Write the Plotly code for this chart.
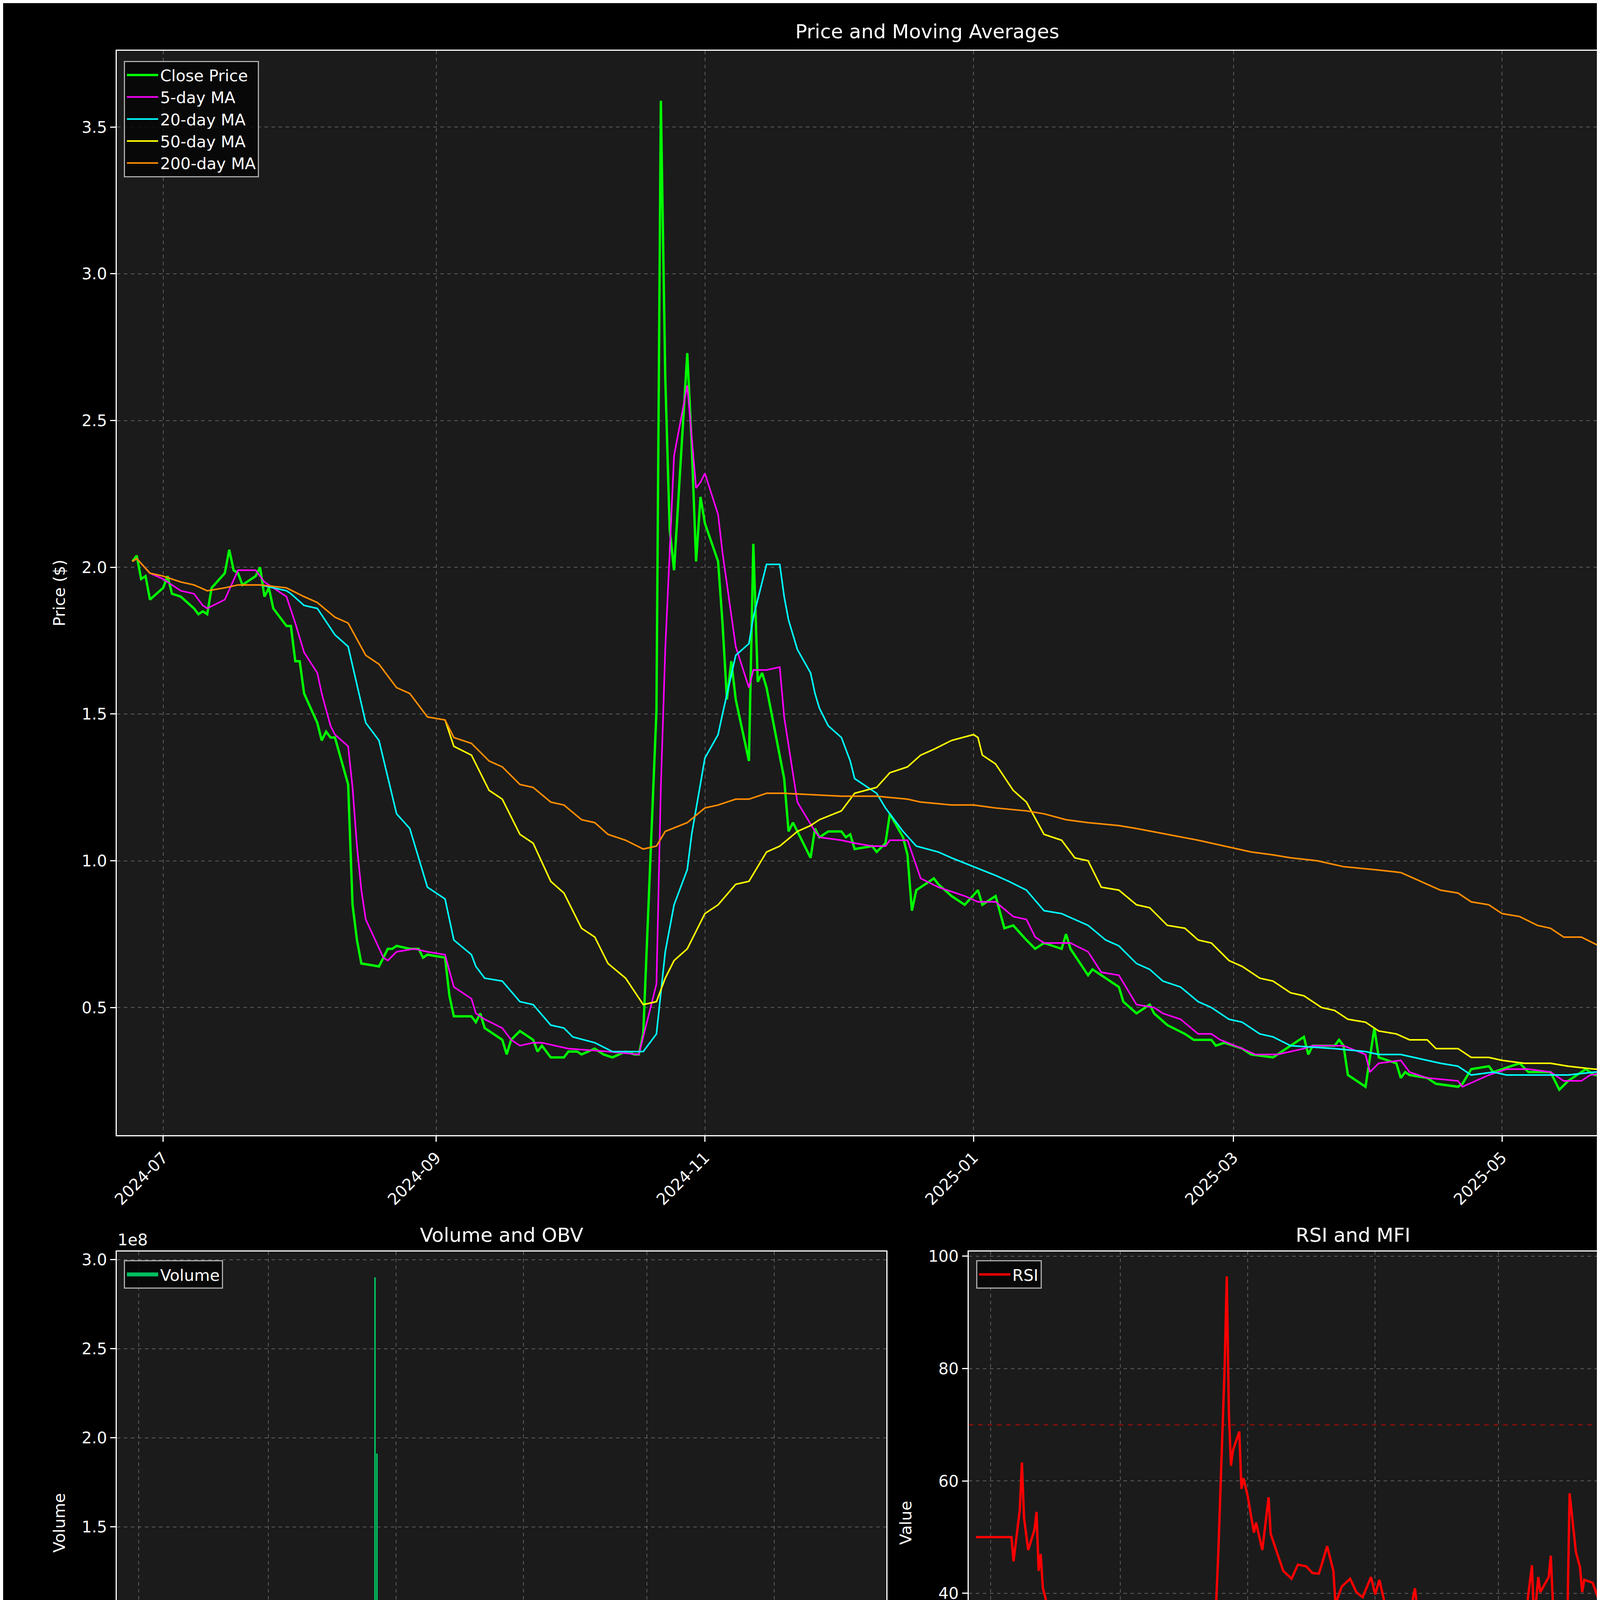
import plotly.graph_objects as go
from plotly.subplots import make_subplots

# ---------------- DATA ----------------
close_dates = ["2024-06-24","2024-06-25","2024-06-26","2024-06-27","2024-06-28","2024-07-01","2024-07-02","2024-07-03","2024-07-05","2024-07-08",
"2024-07-09","2024-07-10","2024-07-11","2024-07-12","2024-07-15","2024-07-16","2024-07-17","2024-07-18","2024-07-19","2024-07-22",
"2024-07-23","2024-07-24","2024-07-25","2024-07-26","2024-07-29","2024-07-30","2024-07-31","2024-08-01","2024-08-02","2024-08-05",
"2024-08-06","2024-08-07","2024-08-08","2024-08-09","2024-08-12","2024-08-13","2024-08-14","2024-08-15","2024-08-19","2024-08-21",
"2024-08-22","2024-08-23","2024-08-26","2024-08-28","2024-08-29","2024-08-30","2024-09-03","2024-09-04","2024-09-05","2024-09-09",
"2024-09-10","2024-09-11","2024-09-12","2024-09-16","2024-09-17","2024-09-18","2024-09-20","2024-09-23","2024-09-24","2024-09-25",
"2024-09-27","2024-09-30","2024-10-01","2024-10-03","2024-10-04","2024-10-07","2024-10-09","2024-10-11","2024-10-14","2024-10-16",
"2024-10-17","2024-10-18","2024-10-21","2024-10-22","2024-10-23","2024-10-24","2024-10-25","2024-10-28","2024-10-29","2024-10-30",
"2024-10-31","2024-11-01","2024-11-04","2024-11-05","2024-11-06","2024-11-07","2024-11-08","2024-11-11","2024-11-12","2024-11-13",
"2024-11-14","2024-11-15","2024-11-19","2024-11-20","2024-11-21","2024-11-25","2024-11-26","2024-11-27","2024-11-29","2024-12-02",
"2024-12-03","2024-12-04","2024-12-05","2024-12-09","2024-12-10","2024-12-12","2024-12-13","2024-12-16","2024-12-17","2024-12-18",
"2024-12-19","2024-12-23","2024-12-24","2024-12-27","2024-12-30","2025-01-02","2025-01-03","2025-01-06","2025-01-08","2025-01-10",
"2025-01-13","2025-01-15","2025-01-17","2025-01-21","2025-01-22","2025-01-23","2025-01-27","2025-01-28","2025-01-30","2025-02-03",
"2025-02-04","2025-02-07","2025-02-10","2025-02-11","2025-02-14","2025-02-18","2025-02-20","2025-02-24","2025-02-25","2025-02-27",
"2025-03-03","2025-03-05","2025-03-10","2025-03-14","2025-03-17","2025-03-18","2025-03-19","2025-03-24","2025-03-25","2025-03-26",
"2025-03-27","2025-03-31","2025-04-02","2025-04-03","2025-04-07","2025-04-08","2025-04-09","2025-04-10","2025-04-14","2025-04-16",
"2025-04-21","2025-04-22","2025-04-24","2025-04-28","2025-04-29","2025-05-01","2025-05-05","2025-05-07","2025-05-12","2025-05-14",
"2025-05-16","2025-05-20","2025-05-22","2025-05-27","2025-05-29","2025-06-02","2025-06-03","2025-06-05","2025-06-06","2025-06-10",
"2025-06-12","2025-06-13","2025-06-16","2025-06-18","2025-06-20"]
close_vals = [2.02,2.04,1.96,1.97,1.89,1.93,1.97,1.91,1.90,1.86,
1.84,1.85,1.84,1.93,1.98,2.06,1.99,1.98,1.94,1.97,
2.00,1.90,1.93,1.86,1.80,1.80,1.68,1.68,1.57,1.47,
1.41,1.44,1.42,1.42,1.26,0.85,0.73,0.65,0.64,0.70,
0.70,0.71,0.70,0.70,0.67,0.68,0.67,0.54,0.47,0.47,
0.45,0.48,0.43,0.39,0.34,0.39,0.42,0.39,0.35,0.37,
0.33,0.33,0.35,0.35,0.34,0.36,0.34,0.33,0.35,0.34,
0.34,0.41,1.51,3.59,2.65,2.13,1.99,2.73,2.42,2.02,
2.24,2.15,2.02,1.81,1.55,1.68,1.55,1.34,2.08,1.61,
1.64,1.59,1.28,1.10,1.13,1.01,1.11,1.08,1.10,1.10,
1.08,1.09,1.04,1.05,1.03,1.06,1.16,1.08,1.02,0.83,
0.90,0.94,0.92,0.88,0.85,0.90,0.85,0.88,0.77,0.78,
0.73,0.70,0.72,0.70,0.75,0.70,0.61,0.63,0.61,0.57,
0.52,0.48,0.51,0.48,0.44,0.41,0.39,0.39,0.37,0.38,
0.36,0.34,0.33,0.37,0.40,0.34,0.37,0.37,0.39,0.37,
0.27,0.23,0.43,0.33,0.31,0.26,0.28,0.27,0.26,0.24,
0.23,0.24,0.29,0.30,0.28,0.29,0.31,0.28,0.28,0.22,
0.25,0.29,0.27,0.27,0.33,0.32,0.28,0.27,0.30,0.32,
0.31,0.30,0.31,0.30,0.26]

ma5_dates = ["2024-06-24","2024-06-25","2024-06-28","2024-07-01","2024-07-05","2024-07-08","2024-07-10","2024-07-11","2024-07-15","2024-07-18",
"2024-07-22","2024-07-24","2024-07-26","2024-07-29","2024-07-31","2024-08-02","2024-08-05","2024-08-06","2024-08-08","2024-08-09",
"2024-08-12","2024-08-13","2024-08-14","2024-08-15","2024-08-16","2024-08-20","2024-08-21","2024-08-23","2024-08-27","2024-08-30",
"2024-09-03","2024-09-05","2024-09-09","2024-09-10","2024-09-12","2024-09-16","2024-09-18","2024-09-20","2024-09-23","2024-09-25",
"2024-10-01","2024-10-10","2024-10-17","2024-10-21","2024-10-22","2024-10-23","2024-10-25","2024-10-28","2024-10-30","2024-10-31",
"2024-11-01","2024-11-04","2024-11-05","2024-11-08","2024-11-11","2024-11-12","2024-11-15","2024-11-18","2024-11-19","2024-11-22",
"2024-11-26","2024-11-27","2024-12-02","2024-12-05","2024-12-09","2024-12-12","2024-12-13","2024-12-17","2024-12-20","2024-12-24",
"2024-12-30","2025-01-02","2025-01-06","2025-01-10","2025-01-13","2025-01-15","2025-01-17","2025-01-23","2025-01-27","2025-01-30",
"2025-02-03","2025-02-07","2025-02-11","2025-02-13","2025-02-17","2025-02-21","2025-02-24","2025-02-26","2025-03-03","2025-03-06",
"2025-03-11","2025-03-17","2025-03-19","2025-03-24","2025-03-26","2025-03-31","2025-04-01","2025-04-03","2025-04-08","2025-04-10",
"2025-04-14","2025-04-21","2025-04-22","2025-04-28","2025-05-02","2025-05-07","2025-05-12","2025-05-15","2025-05-19","2025-05-21",
"2025-05-26","2025-05-30","2025-06-03","2025-06-05","2025-06-09","2025-06-13","2025-06-17","2025-06-20"]
ma5_vals = [2.02,2.03,1.98,1.96,1.92,1.91,1.87,1.86,1.89,1.99,
1.99,1.95,1.93,1.90,1.81,1.71,1.64,1.57,1.46,1.43,
1.39,1.25,1.05,0.90,0.80,0.67,0.66,0.69,0.70,0.69,
0.68,0.57,0.53,0.48,0.46,0.43,0.39,0.37,0.38,0.38,
0.36,0.35,0.34,0.58,1.25,1.72,2.38,2.62,2.27,2.29,
2.32,2.18,2.05,1.73,1.59,1.65,1.65,1.66,1.49,1.20,
1.10,1.08,1.07,1.06,1.05,1.05,1.07,1.07,0.94,0.91,
0.88,0.86,0.86,0.81,0.80,0.74,0.72,0.72,0.69,0.62,
0.61,0.51,0.50,0.48,0.46,0.41,0.41,0.39,0.36,0.34,
0.34,0.36,0.37,0.37,0.37,0.34,0.28,0.31,0.32,0.28,
0.26,0.25,0.23,0.27,0.29,0.29,0.28,0.25,0.25,0.27,
0.28,0.30,0.31,0.29,0.29,0.31,0.31,0.30]

ma20_dates = ["2024-07-23","2024-07-26","2024-07-29","2024-07-30","2024-08-02","2024-08-05","2024-08-09","2024-08-12","2024-08-16","2024-08-19",
"2024-08-23","2024-08-26","2024-08-30","2024-09-03","2024-09-05","2024-09-09","2024-09-10","2024-09-12","2024-09-16","2024-09-20",
"2024-09-23","2024-09-27","2024-09-30","2024-10-02","2024-10-07","2024-10-11","2024-10-18","2024-10-21","2024-10-23","2024-10-25",
"2024-10-28","2024-10-29","2024-11-01","2024-11-04","2024-11-05","2024-11-08","2024-11-11","2024-11-12","2024-11-15","2024-11-18",
"2024-11-19","2024-11-20","2024-11-22","2024-11-25","2024-11-26","2024-11-27","2024-11-29","2024-12-02","2024-12-04","2024-12-05",
"2024-12-10","2024-12-12","2024-12-16","2024-12-19","2024-12-24","2024-12-27","2025-01-01","2025-01-06","2025-01-09","2025-01-13",
"2025-01-17","2025-01-21","2025-01-27","2025-01-31","2025-02-03","2025-02-07","2025-02-10","2025-02-13","2025-02-17","2025-02-21",
"2025-02-24","2025-02-28","2025-03-03","2025-03-07","2025-03-10","2025-03-14","2025-03-24","2025-03-31","2025-04-03","2025-04-08",
"2025-04-11","2025-04-17","2025-04-21","2025-04-24","2025-04-29","2025-05-02","2025-05-07","2025-05-16","2025-05-22","2025-06-02",
"2025-06-10","2025-06-13","2025-06-20"]
ma20_vals = [1.94,1.93,1.92,1.91,1.87,1.86,1.77,1.73,1.47,1.41,
1.16,1.11,0.91,0.87,0.73,0.68,0.64,0.60,0.59,0.52,
0.51,0.44,0.43,0.40,0.38,0.35,0.35,0.41,0.69,0.85,
0.97,1.09,1.35,1.43,1.50,1.70,1.74,1.83,2.01,2.01,
1.90,1.82,1.72,1.64,1.57,1.52,1.46,1.42,1.34,1.28,
1.23,1.18,1.10,1.05,1.03,1.01,0.98,0.95,0.93,0.90,
0.83,0.82,0.78,0.73,0.71,0.65,0.63,0.59,0.57,0.52,
0.50,0.46,0.45,0.41,0.40,0.37,0.36,0.35,0.34,0.34,
0.33,0.31,0.30,0.27,0.28,0.27,0.27,0.27,0.28,0.28,
0.28,0.29,0.30]

ma50_dates = ["2024-09-03","2024-09-05","2024-09-09","2024-09-13","2024-09-16","2024-09-20","2024-09-23","2024-09-27","2024-09-30","2024-10-04",
"2024-10-07","2024-10-10","2024-10-14","2024-10-18","2024-10-21","2024-10-23","2024-10-25","2024-10-28","2024-10-29","2024-11-01",
"2024-11-04","2024-11-08","2024-11-11","2024-11-15","2024-11-18","2024-11-22","2024-11-25","2024-11-27","2024-12-02","2024-12-05",
"2024-12-10","2024-12-13","2024-12-17","2024-12-20","2024-12-23","2024-12-27","2025-01-01","2025-01-02","2025-01-03","2025-01-06",
"2025-01-10","2025-01-13","2025-01-17","2025-01-21","2025-01-24","2025-01-27","2025-01-30","2025-02-03","2025-02-07","2025-02-10",
"2025-02-14","2025-02-18","2025-02-21","2025-02-24","2025-02-28","2025-03-03","2025-03-07","2025-03-10","2025-03-14","2025-03-17",
"2025-03-21","2025-03-24","2025-03-27","2025-03-31","2025-04-03","2025-04-07","2025-04-10","2025-04-14","2025-04-16","2025-04-21",
"2025-04-24","2025-04-28","2025-05-01","2025-05-06","2025-05-12","2025-05-16","2025-05-22","2025-05-28","2025-06-03","2025-06-10",
"2025-06-13","2025-06-20"]
ma50_vals = [1.48,1.39,1.36,1.24,1.21,1.09,1.06,0.93,0.89,0.77,
0.74,0.65,0.60,0.51,0.52,0.60,0.66,0.70,0.73,0.82,
0.85,0.92,0.93,1.03,1.05,1.10,1.12,1.14,1.17,1.23,
1.25,1.30,1.32,1.36,1.38,1.41,1.43,1.42,1.36,1.33,
1.24,1.20,1.09,1.07,1.01,1.00,0.91,0.90,0.85,0.84,
0.78,0.77,0.73,0.72,0.66,0.64,0.60,0.59,0.55,0.54,
0.50,0.49,0.46,0.45,0.42,0.41,0.39,0.39,0.36,0.36,
0.33,0.33,0.32,0.31,0.31,0.30,0.29,0.29,0.28,0.28,
0.28,0.28]

ma200_dates = ["2024-06-24","2024-06-25","2024-06-28","2024-07-01","2024-07-05","2024-07-08","2024-07-11","2024-07-15","2024-07-18","2024-07-23",
"2024-07-29","2024-08-02","2024-08-05","2024-08-09","2024-08-12","2024-08-16","2024-08-19","2024-08-23","2024-08-26","2024-08-30",
"2024-09-03","2024-09-05","2024-09-09","2024-09-13","2024-09-16","2024-09-20","2024-09-23","2024-09-27","2024-09-30","2024-10-04",
"2024-10-07","2024-10-10","2024-10-14","2024-10-18","2024-10-21","2024-10-23","2024-10-28","2024-11-01","2024-11-04","2024-11-08",
"2024-11-11","2024-11-15","2024-11-19","2024-12-02","2024-12-10","2024-12-17","2024-12-20","2024-12-27","2025-01-01","2025-01-06",
"2025-01-13","2025-01-17","2025-01-22","2025-01-27","2025-02-03","2025-02-07","2025-02-14","2025-02-21","2025-02-27","2025-03-05",
"2025-03-10","2025-03-14","2025-03-20","2025-03-26","2025-04-02","2025-04-08","2025-04-11","2025-04-17","2025-04-21","2025-04-24",
"2025-04-28","2025-05-01","2025-05-05","2025-05-09","2025-05-12","2025-05-15","2025-05-19","2025-05-23","2025-05-27","2025-05-30",
"2025-06-03","2025-06-06","2025-06-13","2025-06-20"]
ma200_vals = [2.02,2.03,1.98,1.97,1.95,1.94,1.92,1.93,1.94,1.94,
1.93,1.90,1.88,1.83,1.81,1.70,1.67,1.59,1.57,1.49,
1.48,1.42,1.40,1.34,1.32,1.26,1.25,1.20,1.19,1.14,
1.13,1.09,1.07,1.04,1.05,1.10,1.13,1.18,1.19,1.21,
1.21,1.23,1.23,1.22,1.22,1.21,1.20,1.19,1.19,1.18,
1.17,1.16,1.14,1.13,1.12,1.11,1.09,1.07,1.05,1.03,
1.02,1.01,1.00,0.98,0.97,0.96,0.94,0.90,0.89,0.86,
0.85,0.82,0.81,0.78,0.77,0.74,0.74,0.71,0.70,0.68,
0.68,0.67,0.66,0.66]

vol_dates = ["2024-08-12","2024-08-13","2024-08-14","2024-08-20","2024-08-22","2024-08-26","2024-09-04","2024-09-11","2024-09-12","2024-09-18",
"2024-09-23","2024-09-25","2024-10-01","2024-10-08","2024-10-15","2024-10-18","2024-10-21","2024-10-22","2024-10-23","2024-10-24",
"2024-10-25","2024-10-28","2024-10-29","2024-10-30","2024-10-31","2024-11-01","2024-11-04","2024-11-06","2024-11-08","2024-11-11",
"2024-11-12","2024-11-13","2024-11-15","2024-11-19","2024-11-20","2024-11-22","2024-11-26","2024-11-27","2024-12-02","2024-12-05",
"2024-12-09","2024-12-12","2024-12-16","2024-12-18","2024-12-19","2024-12-23","2024-12-30","2025-01-03","2025-01-08","2025-01-15",
"2025-01-22","2025-02-03","2025-02-12","2025-02-13","2025-02-17","2025-02-18","2025-02-20","2025-02-24","2025-02-27","2025-03-03",
"2025-03-05","2025-03-07","2025-03-11","2025-03-13","2025-03-14","2025-03-17","2025-03-18","2025-03-20","2025-03-21","2025-03-24",
"2025-03-25","2025-03-26","2025-03-28","2025-04-01","2025-04-02","2025-04-03","2025-04-04","2025-04-07","2025-04-08","2025-04-09",
"2025-04-14","2025-04-16","2025-04-21","2025-04-22","2025-04-24","2025-04-25","2025-04-28","2025-04-29","2025-05-01","2025-05-06",
"2025-05-07","2025-05-09","2025-05-13","2025-05-15","2025-05-16","2025-05-20","2025-05-22","2025-05-27","2025-05-29","2025-06-02",
"2025-06-03","2025-06-05","2025-06-06","2025-06-10","2025-06-11","2025-06-13","2025-06-16","2025-06-18","2025-06-20"]
vol_1e8 = [0.034,0.028,0.010,0.008,0.006,0.006,0.008,0.114,0.010,0.008,
0.010,0.006,0.012,0.008,0.030,0.060,0.020,2.90,1.91,0.146,
0.078,0.045,0.190,0.024,0.020,0.040,0.045,0.015,0.012,0.010,
0.218,0.028,0.012,0.010,0.012,0.010,0.008,0.010,0.010,0.015,
0.008,0.010,0.012,0.040,0.020,0.008,0.006,0.010,0.008,0.008,
0.006,0.006,0.164,0.015,0.050,0.020,0.015,0.010,0.012,0.010,
0.008,0.012,0.015,0.100,0.440,0.045,0.020,0.035,0.025,0.035,
0.020,0.030,0.020,0.460,0.630,0.073,0.025,0.030,0.025,0.020,
0.015,0.012,0.012,0.012,0.018,0.020,0.198,0.024,0.025,0.045,
0.025,0.012,0.010,0.035,0.020,0.012,0.015,0.010,0.012,0.088,
0.040,0.012,0.015,0.012,0.015,0.010,0.012,0.008,0.017]

rsi_dates = ["2024-06-24","2024-07-11","2024-07-12","2024-07-15","2024-07-16","2024-07-17","2024-07-19","2024-07-22","2024-07-23","2024-07-24",
"2024-07-25","2024-07-26","2024-07-29","2024-07-31","2024-08-02","2024-08-06","2024-08-07","2024-08-09","2024-08-12","2024-08-13",
"2024-08-15","2024-08-19","2024-08-22","2024-08-23","2024-08-28","2024-08-29","2024-08-30","2024-09-03","2024-09-05","2024-09-06",
"2024-09-10","2024-09-11","2024-09-12","2024-09-16","2024-09-17","2024-09-19","2024-09-23","2024-09-24","2024-09-26","2024-09-27",
"2024-10-01","2024-10-03","2024-10-04","2024-10-09","2024-10-10","2024-10-14","2024-10-15","2024-10-16","2024-10-18","2024-10-21",
"2024-10-22","2024-10-23","2024-10-24","2024-10-25","2024-10-28","2024-10-29","2024-10-30","2024-11-01","2024-11-04","2024-11-05",
"2024-11-08","2024-11-11","2024-11-12","2024-11-18","2024-11-22","2024-11-25","2024-11-29","2024-12-02","2024-12-05","2024-12-06",
"2024-12-09","2024-12-12","2024-12-13","2024-12-16","2024-12-20","2024-12-23","2024-12-26","2024-12-30","2025-01-01","2025-01-03",
"2025-01-06","2025-01-08","2025-01-13","2025-01-15","2025-01-17","2025-01-20","2025-01-21","2025-01-24","2025-01-27","2025-01-30",
"2025-02-03","2025-02-06","2025-02-10","2025-02-13","2025-02-17","2025-02-21","2025-02-24","2025-02-25","2025-02-27","2025-03-03",
"2025-03-05","2025-03-06","2025-03-10","2025-03-12","2025-03-14","2025-03-17","2025-03-18","2025-03-20","2025-03-21","2025-03-25",
"2025-03-26","2025-03-28","2025-04-02","2025-04-03","2025-04-04","2025-04-07","2025-04-09","2025-04-10","2025-04-11","2025-04-15",
"2025-04-18","2025-04-24","2025-04-25","2025-04-28","2025-05-01","2025-05-02","2025-05-05","2025-05-08","2025-05-12","2025-05-13",
"2025-05-16","2025-05-19","2025-05-20","2025-05-26","2025-05-27","2025-05-28","2025-06-02","2025-06-04","2025-06-06","2025-06-09",
"2025-06-10","2025-06-11","2025-06-13","2025-06-16","2025-06-18","2025-06-19","2025-06-20"]
rsi_vals = [50.0,50.0,45.7,54.9,63.3,53.5,47.7,51.3,54.5,44.0,
47.0,41.0,36.6,29.4,24.1,19.0,22.6,21.9,17.3,10.8,
8.7,8.6,14.9,16.5,16.1,15.4,17.3,17.0,13.5,12.2,
11.8,15.7,14.4,13.2,12.0,20.4,22.4,25.7,22.3,26.0,
25.2,23.3,28.0,27.9,26.9,27.8,26.9,30.0,47.7,80.5,
96.4,72.3,62.7,65.5,68.8,58.6,60.5,57.3,50.8,52.6,
47.7,57.1,50.6,44.0,42.6,45.1,44.8,43.6,43.5,44.6,
48.4,44.0,38.1,41.2,42.6,40.2,39.3,42.9,39.8,42.4,
37.5,38.0,34.6,36.4,35.3,40.9,37.8,32.3,35.1,34.7,
28.9,26.9,30.8,25.8,24.5,23.6,22.1,24.8,24.8,21.4,
21.4,23.2,22.3,32.8,36.1,45.0,34.7,42.9,40.2,42.9,
46.7,30.0,26.2,36.8,57.8,47.4,44.6,40.2,42.4,41.9,
38.8,37.1,39.5,48.4,49.8,47.4,47.7,53.5,47.7,48.9,
46.7,37.5,42.6,52.0,47.0,49.4,48.5,61.0,57.4,49.8,
47.0,50.8,57.3,49.8,53.5,51.8,43.0]

macd_dates = ["2024-06-24","2024-07-29","2024-07-30","2024-08-01","2024-08-05","2024-08-08","2024-08-12","2024-08-15","2024-08-16","2024-08-20",
"2024-08-23","2024-08-26","2024-08-30","2024-09-03","2024-09-09","2024-09-13","2024-09-17","2024-09-20","2024-09-24","2024-09-27",
"2024-10-01","2024-10-04","2024-10-08","2024-10-11","2024-10-15","2024-10-18","2024-10-21","2024-10-22","2024-10-23","2024-10-24",
"2024-10-28","2024-10-29","2024-10-30","2024-11-01","2024-11-04","2024-11-05","2024-11-07","2024-11-08","2024-11-11","2024-11-12",
"2024-11-13","2024-11-15","2024-11-18","2024-11-20","2024-11-22","2024-11-26","2024-11-27","2024-12-03","2024-12-09","2024-12-11",
"2024-12-16","2024-12-18","2024-12-23","2024-12-30","2025-01-03","2025-01-08","2025-01-10","2025-01-15","2025-01-21","2025-01-23",
"2025-01-31","2025-02-05","2025-02-11","2025-02-17","2025-02-21","2025-02-26","2025-03-03","2025-03-06","2025-03-11","2025-03-17",
"2025-03-20","2025-03-24","2025-03-26","2025-03-31","2025-04-02","2025-04-07","2025-04-14","2025-04-21","2025-04-24","2025-04-30",
"2025-05-05","2025-05-09","2025-05-14","2025-05-19","2025-05-26","2025-05-28","2025-05-30","2025-06-03","2025-06-09","2025-06-13",
"2025-06-20"]
macd_vals = [0.0,0.0,-0.029,-0.073,-0.093,-0.133,-0.157,-0.284,-0.301,-0.327,
-0.311,-0.300,-0.260,-0.250,-0.244,-0.220,-0.214,-0.190,-0.177,-0.147,
-0.140,-0.116,-0.108,-0.086,-0.079,-0.056,0.035,0.257,0.405,0.432,
0.485,0.537,0.512,0.485,0.465,0.358,0.270,0.216,0.227,0.183,
0.146,0.109,0.055,-0.036,-0.069,-0.089,-0.100,-0.110,-0.112,-0.091,
-0.089,-0.106,-0.103,-0.103,-0.093,-0.091,-0.096,-0.100,-0.091,-0.089,
-0.094,-0.103,-0.100,-0.100,-0.096,-0.087,-0.083,-0.076,-0.058,-0.039,
-0.036,-0.026,-0.036,-0.044,-0.027,-0.032,-0.036,-0.039,-0.029,-0.017,
-0.007,-0.005,-0.013,-0.007,-0.005,0.005,0.007,0.001,0.007,0.005,
0.001]

signal_dates = ["2024-06-24","2024-08-07","2024-08-08","2024-08-12","2024-08-16","2024-08-19","2024-08-23","2024-08-28","2024-09-03","2024-09-06",
"2024-09-13","2024-09-19","2024-09-27","2024-10-04","2024-10-11","2024-10-17","2024-10-21","2024-10-22","2024-10-24","2024-10-28",
"2024-10-29","2024-11-01","2024-11-04","2024-11-06","2024-11-08","2024-11-13","2024-11-15","2024-11-19","2024-11-22","2024-11-26",
"2024-11-29","2024-12-04","2024-12-10","2024-12-16","2024-12-19","2024-12-31","2025-01-08","2025-01-15","2025-01-23","2025-02-05",
"2025-02-21","2025-02-27","2025-03-05","2025-03-13","2025-03-18","2025-03-25","2025-03-31","2025-04-07","2025-04-21","2025-04-28",
"2025-05-02","2025-05-08","2025-05-16","2025-05-26","2025-06-02","2025-06-09","2025-06-20"]
signal_vals = [0.0,0.0,-0.100,-0.112,-0.200,-0.227,-0.281,-0.289,-0.278,-0.261,
-0.237,-0.215,-0.177,-0.140,-0.110,-0.089,-0.056,0.042,0.216,0.274,
0.351,0.415,0.425,0.368,0.337,0.243,0.216,0.092,0.058,-0.012,
-0.032,-0.078,-0.096,-0.093,-0.100,-0.103,-0.096,-0.100,-0.094,-0.100,
-0.098,-0.093,-0.085,-0.069,-0.052,-0.038,-0.040,-0.034,-0.038,-0.031,
-0.020,-0.012,-0.011,-0.005,0.001,0.003,0.005]

vwap_dates = ["2024-06-24","2024-06-28","2024-07-05","2024-07-11","2024-07-22","2024-07-31","2024-08-05","2024-08-12","2024-08-13","2024-08-15",
"2024-08-23","2024-09-03","2024-09-05","2024-09-11","2024-09-12","2024-09-24","2024-10-14","2024-10-15","2024-10-18","2024-10-22",
"2024-10-29","2024-11-12","2024-12-02","2025-01-03","2025-02-13","2025-02-17","2025-02-25","2025-03-07","2025-03-18","2025-03-20",
"2025-03-26","2025-04-03","2025-04-07","2025-04-14","2025-04-25","2025-05-02","2025-05-15","2025-06-02","2025-06-20"]
vwap_vals = [2.08,2.02,2.00,1.98,1.98,1.96,1.92,1.88,1.17,0.98,
0.92,0.91,0.87,0.86,0.68,0.62,0.60,0.58,0.56,2.03,
2.06,2.05,2.03,2.00,2.00,1.96,1.93,1.92,1.91,1.79,
1.76,1.75,1.57,1.55,1.54,1.50,1.48,1.45,1.43]

bbu_dates = ["2024-06-24","2024-07-19","2024-07-26","2024-07-31","2024-08-12","2024-08-14","2024-08-16","2024-08-20","2024-08-26","2024-08-30",
"2024-09-03","2024-09-06","2024-09-10","2024-09-13","2024-09-18","2024-09-25","2024-09-30","2024-10-04","2024-10-10","2024-10-18",
"2024-10-23","2024-10-28","2024-11-05","2024-11-08","2024-11-12","2024-11-15","2024-11-19","2024-12-02","2025-01-03","2025-02-13",
"2025-02-17","2025-02-26","2025-03-10","2025-03-14","2025-03-19","2025-03-27","2025-04-03","2025-04-08","2025-04-15","2025-04-23",
"2025-04-30","2025-05-02","2025-05-15","2025-05-22","2025-06-02","2025-06-20"]
bbu_vals = [2.08,2.08,2.02,2.00,2.03,2.33,2.51,2.54,2.43,2.14,
2.03,1.61,1.07,1.08,1.05,1.04,0.96,0.81,0.67,0.65,
1.55,2.39,2.80,2.95,2.93,2.72,2.07,2.06,2.03,2.01,
2.03,2.03,1.99,1.95,2.00,2.00,1.98,1.99,1.91,1.84,
1.69,1.58,1.57,1.51,1.49,1.46]

bbl_dates = ["2024-06-24","2024-07-19","2024-07-30","2024-08-12","2024-08-15","2024-08-20","2024-08-26","2024-08-30","2024-09-03","2024-09-09",
"2024-09-11","2024-09-16","2024-09-23","2024-09-27","2024-10-04","2024-10-10","2024-10-18","2024-10-21","2024-10-24","2024-10-29",
"2024-11-01","2024-11-07","2024-11-12","2024-11-15","2024-11-20","2024-12-02","2025-01-03","2025-02-13","2025-02-17","2025-02-28",
"2025-03-13","2025-03-18","2025-03-21","2025-03-31","2025-04-03","2025-04-07","2025-04-14","2025-04-21","2025-04-30","2025-05-02",
"2025-05-15","2025-06-02","2025-06-20"]
bbl_vals = [1.94,1.94,1.96,1.88,0.96,0.68,0.47,0.35,0.36,0.56,
0.81,0.68,0.53,0.48,0.50,0.56,0.54,0.35,-0.19,-0.28,
-0.16,0.17,0.50,1.07,2.03,2.04,2.00,2.00,1.96,1.91,
1.89,1.91,1.81,1.70,1.68,1.51,1.48,1.43,1.45,1.50,
1.45,1.44,1.42]

# ---------------- FIGURE ----------------
FS = 41
WHITE = "#ffffff"
PLOT_BG = "#1b1b1b"
GRID = "rgba(150,150,150,0.55)"
XR = ["2024-06-20 12:00", "2025-06-23 14:00"]

fig = make_subplots(rows=3, cols=2,
                    specs=[[{"colspan": 2}, None], [{}, {}], [{}, {}]])

def line(x, y, name, color, width, row, col, legend, showlegend=True, opacity=1.0):
    fig.add_trace(go.Scatter(x=x, y=y, mode="lines", name=name,
                             line=dict(color=color, width=width), opacity=opacity,
                             legend=legend, showlegend=showlegend), row=row, col=col)

line(close_dates, close_vals, "Close Price", "#00ff00", 6, 1, 1, "legend")
line(ma5_dates, ma5_vals, "5-day MA", "#ff00ff", 4, 1, 1, "legend")
line(ma20_dates, ma20_vals, "20-day MA", "#00ffff", 4, 1, 1, "legend")
line(ma50_dates, ma50_vals, "50-day MA", "#ffff00", 4, 1, 1, "legend")
line(ma200_dates, ma200_vals, "200-day MA", "#ff8c00", 4, 1, 1, "legend")

VOLC = "#00c060"
fig.add_trace(go.Bar(x=vol_dates, y=vol_1e8, name="Volume", marker_color=VOLC,
                     marker_line_width=0, width=86400000 * 0.8, showlegend=False), row=2, col=1)
# legend patch for volume (wide rectangle like the reference)
fig.add_trace(go.Scatter(x=[None], y=[None], mode="lines", name="Volume",
                         line=dict(color=VOLC, width=28), legend="legend2"), row=2, col=1)

line(rsi_dates, rsi_vals, "RSI", "#ff0000", 6, 2, 2, "legend3")

line(macd_dates, macd_vals, "MACD", "#ff8c00", 6, 3, 1, "legend4")
line(signal_dates, signal_vals, "Signal", "#00ff7f", 6, 3, 1, "legend4")

fig.add_trace(go.Scatter(x=bbu_dates + bbl_dates[::-1], y=bbu_vals + bbl_vals[::-1],
                         fill="toself", fillcolor="rgba(128,128,128,0.1)",
                         line=dict(width=0), showlegend=False, hoverinfo="skip"), row=3, col=2)
line(close_dates, close_vals, "Close Price", "#008000", 5, 3, 2, "legend5", opacity=0.9)
line(vwap_dates, vwap_vals, "VWAP", "#ff00ff", 8, 3, 2, "legend5")
line(bbu_dates, bbu_vals, "VWAP BB Upper", "rgba(200,60,50,0.6)", 4, 3, 2, "legend5")
line(bbl_dates, bbl_vals, "VWAP BB Lower", "rgba(30,160,30,0.7)", 4, 3, 2, "legend5")

xd_full = [0.049, 0.9935]
xd_l = [0.049, 0.4973]
xd_r = [0.5452, 0.9935]
yd_top = [0.554, 0.983]
yd_2 = [0.2934, 0.5079]
yd_3 = [0.0329, 0.2473]

axis_common = dict(showline=True, linecolor=WHITE, linewidth=3, mirror=True,
                   ticks="outside", tickcolor=WHITE, ticklen=14, tickwidth=3,
                   tickfont=dict(size=FS, color=WHITE), showgrid=True,
                   gridcolor=GRID, griddash="dash", gridwidth=2, zeroline=False)
xcommon = dict(axis_common, type="date", range=XR, tick0="2024-07-01", dtick="M2",
               tickformat="%Y-%m", tickangle=-45)

def ytitle(t):
    return dict(text=t, font=dict(size=FS, color=WHITE), standoff=30)

fig.update_layout(
    xaxis=dict(xcommon, domain=xd_full, anchor="y"),
    yaxis=dict(axis_common, domain=yd_top, range=[0.065, 3.76], dtick=0.5, tickformat=".1f", title=ytitle("Price ($)")),
    xaxis2=dict(xcommon, domain=xd_l, anchor="y2"),
    yaxis2=dict(axis_common, domain=yd_2, range=[0, 3.045], dtick=0.5, tickformat=".1f", title=ytitle("Volume")),
    xaxis3=dict(xcommon, domain=xd_r, anchor="y3"),
    yaxis3=dict(axis_common, domain=yd_2, range=[4.3, 100.8], dtick=20, title=ytitle("Value")),
    xaxis4=dict(xcommon, domain=xd_l, anchor="y4"),
    yaxis4=dict(axis_common, domain=yd_3, range=[-0.368, 0.58], dtick=0.2, tickformat=".1f", title=ytitle("Value")),
    xaxis5=dict(xcommon, domain=xd_r, anchor="y5"),
    yaxis5=dict(axis_common, domain=yd_3, range=[-0.465, 3.78], dtick=0.5, tickformat=".1f", title=ytitle("Price ($)")),
)

fig.add_shape(type="line", xref="x3 domain", yref="y3", x0=0, x1=1, y0=70, y1=70,
              line=dict(color="rgba(255,0,0,0.45)", width=4, dash="dash"))
fig.add_shape(type="line", xref="x3 domain", yref="y3", x0=0, x1=1, y0=30, y1=30,
              line=dict(color="rgba(0,128,0,0.55)", width=4, dash="dash"))

leg = dict(bgcolor="rgba(5,5,5,0.85)", bordercolor="#aaaaaa", borderwidth=3,
           font=dict(size=FS, color=WHITE), xanchor="left", yanchor="top",
           tracegroupgap=0, itemwidth=80)
fig.update_layout(
    legend=dict(leg, x=0.053, y=0.979),
    legend2=dict(leg, x=0.053, y=0.5045),
    legend3=dict(leg, x=0.5495, y=0.5045),
    legend4=dict(leg, x=0.053, y=0.2435),
    legend5=dict(leg, x=0.5495, y=0.2435),
)

titles = [("Price and Moving Averages", 0.5212, 0.9905),
          ("Volume and OBV", 0.2732, 0.5145),
          ("RSI and MFI", 0.7693, 0.5145),
          ("MACD", 0.2732, 0.2535),
          ("VWAP with Bollinger Bands", 0.7693, 0.2535)]
for t, x, y in titles:
    fig.add_annotation(text=t, x=x, y=y, xref="paper", yref="paper", showarrow=False,
                       xanchor="center", yanchor="middle", font=dict(size=50, color=WHITE))
fig.add_annotation(text="1e8", x=0.049, y=0.5085, xref="paper", yref="paper", showarrow=False,
                   xanchor="left", yanchor="bottom", font=dict(size=FS, color=WHITE))

fig.update_layout(width=4470, height=6507, paper_bgcolor="#000000", plot_bgcolor=PLOT_BG,
                  margin=dict(l=0, r=0, t=0, b=0), bargap=0,
                  font=dict(family="DejaVu Sans", color=WHITE, size=FS))

fig.write_html("out.html")
